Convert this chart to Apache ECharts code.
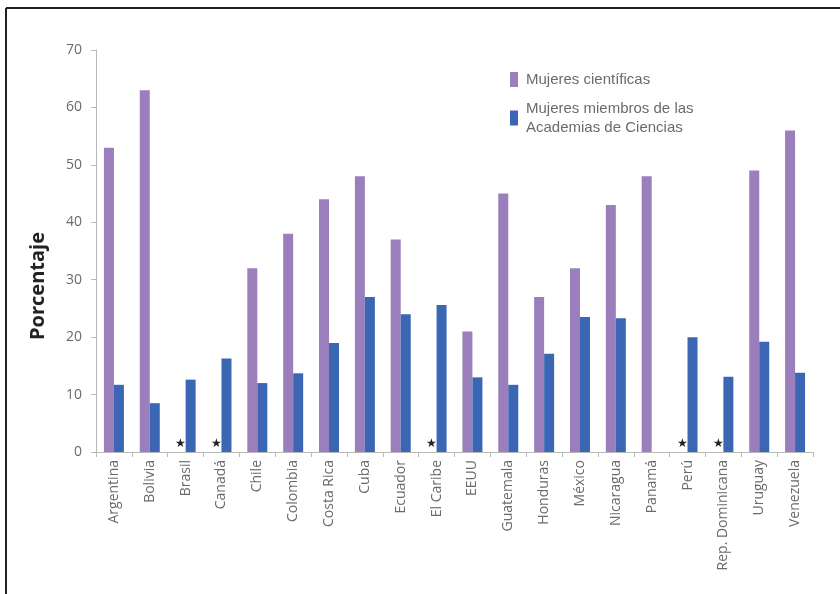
<!DOCTYPE html>
<html>
<head>
<meta charset="utf-8">
<script src="https://cdn.jsdelivr.net/npm/echarts@6/dist/echarts.min.js"></script>
<style>
  html, body { margin: 0; padding: 0; background: #fff; }
  #chart { width: 840px; height: 594px; }
</style>
</head>
<body>
<div id="chart"></div>
<script>
// Países
const paises = ['Argentina', 'Bolivia', 'Brasil', 'Canadá', 'Chile', 'Colombia', 'Costa Rica',
  'Cuba', 'Ecuador', 'El Caribe', 'EEUU', 'Guatemala', 'Honduras', 'México', 'Nicaragua',
  'Panamá', 'Perú', 'Rep. Dominicana', 'Uruguay', 'Venezuela'];

// Porcentaje de mujeres científicas (null = sin datos, marcado con ★)
const cientificas = [53, 63, null, null, 32, 38, 44, 48, 37, null, 21, 45, 27, 32, 43, 48, null, null, 49, 56];

// Porcentaje de mujeres miembros de las Academias de Ciencias
const academias = [11.7, 8.5, 12.6, 16.3, 12.0, 13.7, 19.0, 27.0, 24.0, 25.6, 13.0, 11.7, 17.1, 23.5, 23.3, null, 20.0, 13.1, 19.2, 13.8];

// Marcas del eje Y
const ticksY = [0, 10, 20, 30, 40, 50, 60, 70];

const nombreCientificas = 'Mujeres científicas';
const nombreAcademias = 'Mujeres miembros de las\nAcademias de Ciencias';

const colorMorado = '#9a7fbc';
const colorAzul = '#3a66b4';
const colorTexto = '#6b6b6b';

// Los países sin dato de científicas llevan una estrella sobre el eje
const datosCientificas = cientificas.map(v => v === null
  ? { value: 0, label: { show: true, formatter: '★', position: 'top', distance: 2, color: '#222', fontSize: 12 } }
  : v);

const chart = echarts.init(document.getElementById('chart'));
chart.setOption({
  animation: false,
  backgroundColor: '#fff',
  grid: { left: 96, right: 27, top: 50, bottom: 142, containLabel: false },
  legend: {
    orient: 'vertical',
    left: 505,
    top: 65,
    itemWidth: 8,
    itemHeight: 15,
    itemGap: 10,
    icon: 'rect',
    textStyle: {
      fontFamily: 'Liberation Sans',
      fontSize: 15,
      color: colorTexto,
      lineHeight: 19,
      padding: [0, 0, 0, 3]
    },
    data: [nombreCientificas, nombreAcademias]
  },
  xAxis: {
    type: 'category',
    data: paises,
    axisLine: { lineStyle: { color: '#b8b8b8', width: 1 } },
    axisTick: { show: true, length: 5, lineStyle: { color: '#b8b8b8' } },
    axisLabel: {
      rotate: 90,
      interval: 0,
      margin: 8,
      fontFamily: 'Open Sans',
      fontSize: 14,
      color: colorTexto
    }
  },
  yAxis: {
    type: 'value',
    min: ticksY[0],
    max: ticksY[ticksY.length - 1],
    interval: 10,
    splitLine: { show: false },
    axisLine: { show: true, lineStyle: { color: '#b8b8b8', width: 1 } },
    axisTick: { show: true, length: 5, lineStyle: { color: '#b8b8b8' } },
    axisLabel: { margin: 14, fontFamily: 'Open Sans', fontSize: 14, color: colorTexto }
  },
  series: [
    {
      name: nombreCientificas,
      type: 'bar',
      data: datosCientificas,
      itemStyle: { color: colorMorado },
      barWidth: 10,
      barGap: '0%'
    },
    {
      name: nombreAcademias,
      type: 'bar',
      data: academias,
      itemStyle: { color: colorAzul },
      barWidth: 10,
      barGap: '0%'
    }
  ],
  graphic: [
    {
      type: 'text',
      x: 38, y: 286,
      rotation: Math.PI / 2,
      style: {
        text: 'Porcentaje',
        fontFamily: 'Open Sans',
        fontWeight: 'bold',
        fontSize: 20,
        fill: '#222',
        textAlign: 'center',
        textVerticalAlign: 'middle'
      }
    },
    { type: 'line', shape: { x1: 6, y1: 8, x2: 840, y2: 8 }, style: { stroke: '#222', lineWidth: 2 } },
    { type: 'line', shape: { x1: 6, y1: 8, x2: 6, y2: 594 }, style: { stroke: '#222', lineWidth: 2 } }
  ]
});
</script>
</body>
</html>
